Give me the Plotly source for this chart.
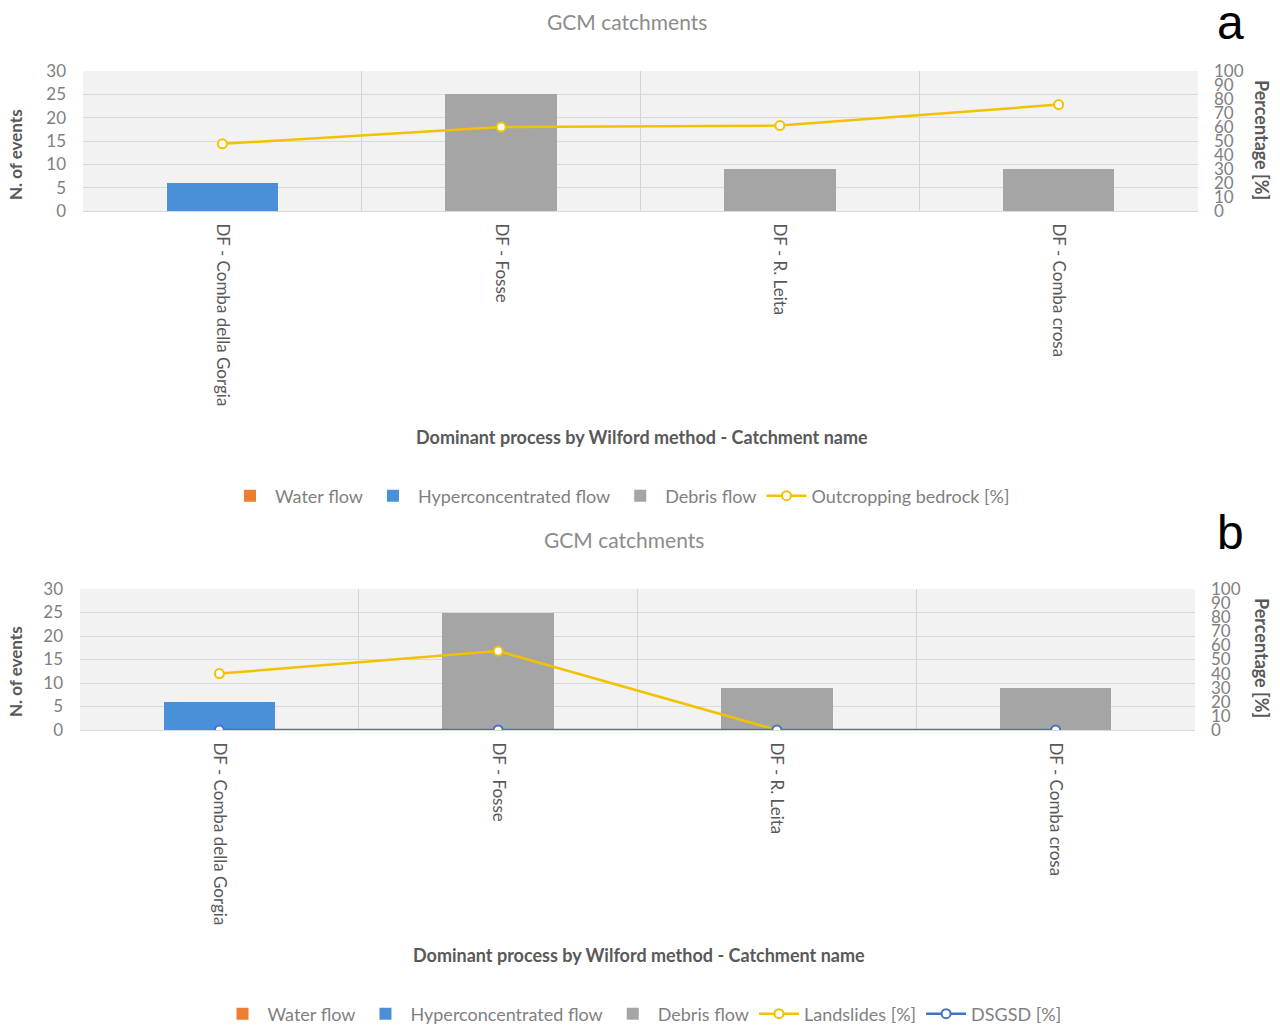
import plotly.graph_objects as go

categories = ["DF - Comba della Gorgia", "DF - Fosse", "DF - R. Leita", "DF - Comba crosa"]
water_flow = [0, 0, 0, 0]
hyper_flow = [6, None, None, None]
debris_flow = [None, 25, 9, 9]
outcropping = [48, 60, 61, 76]
landslides = [40, 56, 0, None]
dsgsd = [0, 0, 0, 0]

FONT = "Lato"
GRAY = "#7f7f7f"
DARK = "#595959"
ORANGE = "#ED7D31"
BLUE = "#4A90D9"
BGRAY = "#A5A5A5"
YELLOW = "#F2C200"
DBLUE = "#4472C4"

fig = go.Figure()

def add_panel(xa, ya, ya2, legend, line_series):
    fig.add_trace(go.Bar(x=categories, y=water_flow, name="Water flow", marker=dict(color=ORANGE, line_width=0),
                         xaxis=xa, yaxis=ya, legend=legend))
    fig.add_trace(go.Bar(x=categories, y=hyper_flow, name="Hyperconcentrated flow", marker=dict(color=BLUE, line_width=0),
                         xaxis=xa, yaxis=ya, legend=legend))
    fig.add_trace(go.Bar(x=categories, y=debris_flow, name="Debris flow", marker=dict(color=BGRAY, line_width=0),
                         xaxis=xa, yaxis=ya, legend=legend))
    for name, vals, col in line_series:
        fig.add_trace(go.Scatter(x=categories, y=vals, name=name, mode="lines+markers",
                                 line=dict(color=col, width=2.5),
                                 marker=dict(symbol="circle", size=9, color="white", line=dict(color=col, width=2)),
                                 xaxis=xa, yaxis=ya2, legend=legend))

add_panel("x", "y", "y2", "legend", [("Outcropping bedrock [%]", outcropping, YELLOW)])
add_panel("x2", "y3", "y4", "legend2", [("Landslides [%]", landslides, YELLOW), ("DSGSD [%]", dsgsd, DBLUE)])

W, H = 1280, 1028
def px(x): return x / W
def py(y): return 1 - y / H

xcommon = dict(type="category", tickson="boundaries", showgrid=True, gridcolor="#d4d4d4", gridwidth=1,
               ticks="", tickangle=90, tickfont=dict(family=FONT, size=17, color=DARK), ticklabelstandoff=8,
               showline=True, linecolor="#d9d9d9", zeroline=False, automargin=False)
yleft = dict(range=[0, 30], dtick=5, showgrid=True, gridcolor="#d9d9d9", gridwidth=1, zeroline=False,
             tickfont=dict(family=FONT, size=17, color=GRAY), ticks="", ticklabelstandoff=16, automargin=False)
yright = dict(range=[0, 100], dtick=10, showgrid=False, zeroline=False, side="right",
              tickfont=dict(family=FONT, size=17, color=GRAY), ticks="", ticklabelstandoff=15, automargin=False)

legfont = dict(family=FONT, size=18, color=GRAY)
fig.update_layout(
    width=W, height=H,
    margin=dict(l=0, r=0, t=0, b=0, autoexpand=False),
    paper_bgcolor="white",
    plot_bgcolor="#f2f2f2",
    barmode="stack",
    bargap=0.6,
    font=dict(family=FONT, color=GRAY),
    xaxis=dict(domain=[px(83), px(1198)], anchor="y", **xcommon),
    yaxis=dict(domain=[py(211), py(71)], anchor="x", **yleft),
    yaxis2=dict(overlaying="y", anchor="x", **yright),
    xaxis2=dict(domain=[px(80), px(1195)], anchor="y3", **xcommon),
    yaxis3=dict(domain=[py(730), py(589)], anchor="x2", **yleft),
    yaxis4=dict(overlaying="y3", anchor="x2", **yright),
    legend=dict(orientation="h", x=px(620), xanchor="center", y=py(496), yanchor="middle", traceorder="normal",
                font=legfont, itemwidth=40, tracegroupgap=0, bgcolor="rgba(0,0,0,0)"),
    legend2=dict(orientation="h", x=px(642), xanchor="center", y=py(1014), yanchor="middle", traceorder="normal",
                 font=legfont, itemwidth=40, tracegroupgap=0, bgcolor="rgba(0,0,0,0)"),
    showlegend=True,
)

ann = []
for title_y, xt_y, ev_y, pc_y, lab_y, letter, cx, xtx in [(21, 437, 155, 140, 22, "a", 627, 642),
                                                          (539, 955, 672, 658, 532, "b", 624, 639)]:
    ann.append(dict(text="GCM catchments", x=px(cx), y=py(title_y), xref="paper", yref="paper",
                    showarrow=False, font=dict(family=FONT, size=21, color="#8c8c8c"), xanchor="center", yanchor="middle"))
    ann.append(dict(text="<b>Dominant process by Wilford method - Catchment name</b>", x=px(xtx), y=py(xt_y),
                    xref="paper", yref="paper", showarrow=False, font=dict(family=FONT, size=18, color=DARK),
                    xanchor="center", yanchor="middle"))
    ann.append(dict(text="<b>N. of events</b>", x=px(15), y=py(ev_y), xref="paper", yref="paper", textangle=-90,
                    showarrow=False, font=dict(family=FONT, size=17, color=DARK), xanchor="center", yanchor="middle"))
    ann.append(dict(text="<b>Percentage [%]</b>", x=px(1262), y=py(pc_y), xref="paper", yref="paper", textangle=90,
                    showarrow=False, font=dict(family=FONT, size=18, color=DARK), xanchor="center", yanchor="middle"))
    ann.append(dict(text=letter, x=px(1230), y=py(lab_y), xref="paper", yref="paper",
                    showarrow=False, font=dict(family="Liberation Sans", size=48, color="black"),
                    xanchor="center", yanchor="middle"))
fig.update_layout(annotations=ann)

fig.write_html("out.html", config={"displayModeBar": False},
               post_script="document.body.style.margin='0';document.body.style.overflow='hidden';")
